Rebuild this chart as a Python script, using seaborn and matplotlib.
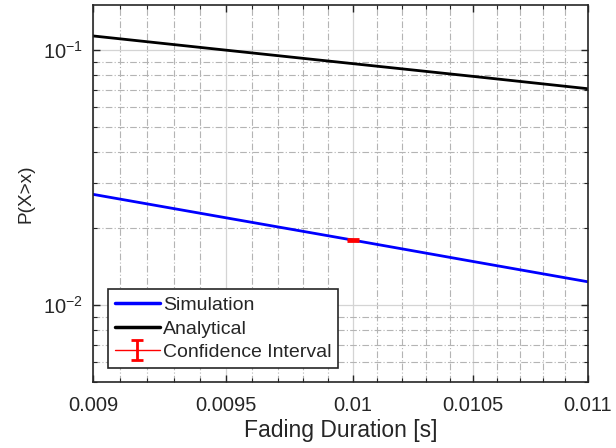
import numpy as np
import pandas as pd
import seaborn as sns
import matplotlib.pyplot as plt
from matplotlib.lines import Line2D
from matplotlib.ticker import FixedLocator, FixedFormatter, LogLocator, NullFormatter


#%% Data

fading_duration = [0.009, 0.0095, 0.01, 0.0105, 0.011]
p_simulation = [0.0272, 0.0220, 0.0180, 0.01484, 0.01236]
p_analytical = [0.1135, 0.0998, 0.0884, 0.0788, 0.0705]

ci_x = [0.01]
ci_y = [0.0180]
ci_err = [0.0002]

xtick_values = [0.009, 0.0095, 0.01, 0.0105, 0.011]
xtick_labels = ['0.009', '0.0095', '0.01', '0.0105', '0.011']
xminor_values = [0.0091, 0.0092, 0.0093, 0.0094, 0.0096, 0.0097, 0.0098, 0.0099,
                 0.0101, 0.0102, 0.0103, 0.0104, 0.0106, 0.0107, 0.0108, 0.0109]


#%% Plot

sns.set_theme(style='ticks')
plt.rcParams['font.family'] = ['Liberation Sans', 'DejaVu Sans']
plt.rcParams['mathtext.fontset'] = 'custom'
plt.rcParams['mathtext.rm'] = 'Liberation Sans'
plt.rcParams['axes.unicode_minus'] = False

df = pd.DataFrame({
    'x': fading_duration * 2,
    'p': p_simulation + p_analytical,
    'curve': ['Simulation'] * len(fading_duration) + ['Analytical'] * len(fading_duration),
})

fig = plt.figure(figsize=(6.16, 4.48), dpi=100)
ax = fig.add_axes([0.151, 0.147, 0.8035, 0.8418])

sns.lineplot(data=df, x='x', y='p', hue='curve', palette={'Simulation': '#0000ff', 'Analytical': 'black'},
             linewidth=2, ax=ax, legend=False)
ax.errorbar(ci_x, ci_y, yerr=ci_err, color='red', linewidth=1, elinewidth=2, capsize=4.5, capthick=2,
            label='Confidence Interval', zorder=5)

ax.set_xscale('log')
ax.set_yscale('log')
ax.set_xlim(0.009, 0.011)
ax.set_ylim(0.005, 0.15)

ax.xaxis.set_major_locator(FixedLocator(xtick_values))
ax.xaxis.set_major_formatter(FixedFormatter(xtick_labels))
ax.xaxis.set_minor_locator(FixedLocator(xminor_values))
ax.xaxis.set_minor_formatter(NullFormatter())
ax.yaxis.set_major_locator(LogLocator(base=10))
ax.yaxis.set_minor_locator(LogLocator(base=10, subs=np.arange(2, 10)))
ax.yaxis.set_minor_formatter(NullFormatter())

ax.grid(which='major', color='#d4d4d4', linestyle='-', linewidth=0.9)
ax.grid(which='minor', color='#b4b4b4', linestyle=(0, (6, 2, 1, 2)), linewidth=0.8)
ax.set_axisbelow(True)

ax.tick_params(which='both', direction='in', top=True, right=True, colors='#262626', labelcolor='#262626')
ax.tick_params(which='major', length=5, width=1, labelsize=14.5)
ax.tick_params(axis='x', which='major', pad=10)
ax.tick_params(axis='y', which='major', pad=7)
ax.tick_params(which='minor', length=3, width=0.8)
for s in ax.spines.values():
    s.set_color('#262626')
    s.set_linewidth(1.2)

ax.set_xlabel('Fading Duration [s]', fontsize=16.5, color='#262626', labelpad=3)
ax.set_ylabel('P(X>x)', fontsize=13.7, color='#262626', labelpad=6)

handles = [Line2D([], [], color='#0000ff', linewidth=2.5),
           Line2D([], [], color='black', linewidth=2.5),
           ax.get_legend_handles_labels()[0][0]]
leg = ax.legend(handles, ['Simulation', 'Analytical', 'Confidence Interval'], loc='lower left',
                bbox_to_anchor=(0.03, 0.037), fontsize=14, frameon=True, fancybox=False,
                handlelength=2.3, handletextpad=0.15, labelspacing=0.3, borderpad=0.37, borderaxespad=0)
leg.get_frame().set_edgecolor('#262626')
leg.get_frame().set_linewidth(1.2)
leg.get_frame().set_alpha(1)

fig.savefig('out.png', dpi=100)
